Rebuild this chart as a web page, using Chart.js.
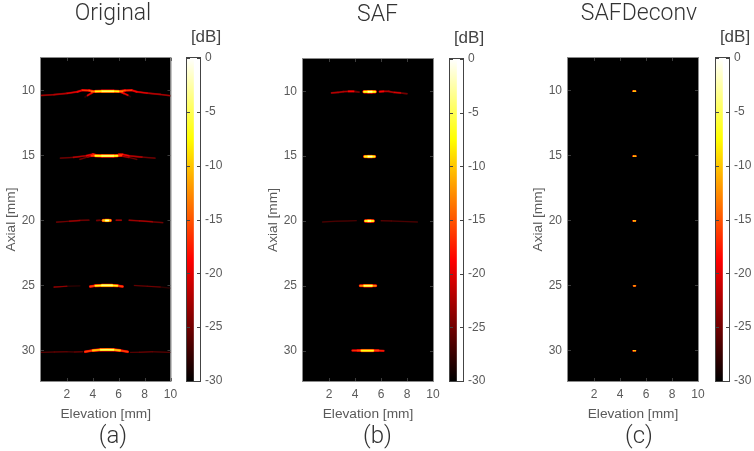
<!DOCTYPE html>
<html>
<head>
<meta charset="utf-8">
<title>Original / SAF / SAFDeconv</title>
<script src="https://cdn.jsdelivr.net/npm/chart.js@4"></script>
<style>
  html, body { margin: 0; background: #fff; width: 754px; height: 451px; overflow: hidden; }
  canvas { position: absolute; filter: blur(0.45px); }
</style>
</head>
<body>
<script>
//tick labels
const elevationTicks = [2, 4, 6, 8, 10];
const axialTicks = [10, 15, 20, 25, 30];
const dbTicks = [0, -5, -10, -15, -20, -25, -30];

//each lobe is a list of [elevation mm, axial mm, dB]
const originalLobes = [
  // 10 mm
  [[0, 10.38, -22], [1, 10.32, -21], [2, 10.22, -20], [2.8, 10.1, -18], [3.2, 9.98, -15], [3.7, 10.0, -14], [4.0, 10.05, -13]],
  [[3.4, 10.5, -28], [3.6, 10.38, -19], [3.9, 10.2, -18], [4.1, 10.08, -16]],
  [[3.9, 10.08, -14], [4.2, 10.07, -8], [4.7, 10.06, -4], [5.1, 10.06, -2], [5.6, 10.06, -4], [6.0, 10.07, -8], [6.3, 10.08, -14]],
  [[6.1, 10.05, -13], [6.5, 10.0, -14], [7.0, 9.98, -15], [7.4, 10.1, -18], [8.2, 10.2, -20], [9.2, 10.3, -21], [10, 10.4, -22]],
  [[6.1, 10.1, -16], [6.4, 10.22, -18], [6.7, 10.36, -19], [6.9, 10.48, -28]],
  // 15 mm
  [[0.6, 15.27, -30], [1.5, 15.2, -24], [2.5, 15.14, -21], [3.5, 15.02, -19], [4.0, 14.9, -17], [4.2, 14.95, -14]],
  [[2.4, 15.5, -30], [3.0, 15.3, -25], [3.6, 15.12, -22], [4.1, 15.0, -20]],
  [[3.9, 15.02, -16], [4.2, 15.02, -6], [4.7, 15.03, -3], [5.1, 15.03, -2], [5.6, 15.03, -3], [5.9, 15.02, -6], [6.2, 15.0, -16]],
  [[6.0, 14.92, -15], [6.3, 14.92, -17], [6.8, 15.03, -19], [7.8, 15.12, -21], [8.8, 15.2, -24], [9.6, 15.27, -30]],
  [[6.1, 15.02, -20], [6.8, 15.15, -23], [7.4, 15.3, -25], [8.0, 15.5, -30]],
  // 20 mm
  [[0.4, 20.2, -30], [1.2, 20.12, -24], [2.2, 20.06, -22], [3.0, 20.0, -22], [3.7, 19.98, -24], [3.9, 20.0, -30]],
  [[4.1, 20.06, -30], [4.3, 20.0, -20], [4.55, 19.98, -24], [4.7, 20, -30]],
  [[4.65, 20, -30], [4.8, 20, -9], [5.0, 20, -1], [5.2, 20, -1], [5.35, 20, -9], [5.5, 20, -30]],
  [[5.6, 20, -30], [5.8, 19.98, -20], [6.2, 19.98, -23], [6.4, 20, -30]],
  [[6.4, 20.0, -30], [6.8, 19.98, -23], [7.6, 20.03, -21], [8.6, 20.1, -22], [9.4, 20.17, -24], [9.9, 20.25, -30]],
  // 25 mm
  [[0.2, 25.15, -30], [1.0, 25.12, -23], [2.0, 25.06, -23], [3.0, 25.03, -27], [3.2, 25.03, -30]],
  [[3.6, 25.1, -30], [3.8, 25.08, -17], [4.2, 25.02, -8], [4.7, 25, -3], [5.1, 25, -1], [5.5, 25, -3], [5.9, 25.02, -8], [6.3, 25.08, -17], [6.5, 25.1, -30]],
  [[6.9, 25.03, -30], [7.2, 25.0, -25], [8.2, 25.06, -24], [9.2, 25.12, -23], [10, 25.2, -28]],
  // 30 mm
  [[0, 30.15, -26], [1.0, 30.12, -24], [2.0, 30.1, -25], [2.6, 30.12, -26], [3.2, 30.1, -22]],
  [[2.9, 30.2, -30], [3.4, 30.1, -17], [4.0, 30.0, -9], [4.6, 29.95, -4], [5.1, 29.94, -2], [5.6, 29.95, -4], [6.1, 30.0, -9], [6.7, 30.1, -17], [7.2, 30.2, -30]],
  [[6.9, 30.15, -26], [7.6, 30.14, -24], [8.6, 30.1, -24], [10, 30.15, -26]]
];

const safLobes = [
  // 10 mm
  [[1.5, 10.2, -30], [2.2, 10.12, -21], [2.7, 10.08, -19], [3.1, 10.02, -22], [3.5, 10.0, -20], [3.9, 10.0, -15], [4.3, 10.05, -24], [4.4, 10.05, -30]],
  [[4.45, 10.03, -30], [4.7, 10.03, -6], [5.0, 10.03, -1], [5.3, 10.03, -1], [5.55, 10.03, -6], [5.75, 10.03, -30]],
  [[5.7, 10.03, -30], [5.9, 10.02, -16], [6.2, 10.0, -18], [6.6, 10.0, -22], [7.0, 10.08, -19], [7.5, 10.12, -20], [8.0, 10.18, -24], [8.5, 10.22, -30]],
  // 15 mm
  [[3.2, 15.0, -30], [3.4, 15.0, -28], [3.6, 15.0, -30]],
  [[4.0, 15.02, -30], [4.2, 15.02, -21], [4.4, 15.02, -30]],
  [[4.5, 15.03, -30], [4.75, 15.03, -7], [5.0, 15.03, -1], [5.3, 15.03, -1], [5.5, 15.03, -7], [5.7, 15.03, -30]],
  [[5.65, 15.02, -30], [5.85, 15.02, -22], [6.05, 15.02, -30]],
  // 20 mm
  [[0.7, 20.14, -30], [1.5, 20.08, -26], [2.5, 20.02, -25], [3.4, 20, -26], [4.1, 19.98, -25], [4.3, 20, -30]],
  [[4.55, 20, -30], [4.8, 20, -6], [5.0, 20, -1], [5.2, 20, -1], [5.4, 20, -6], [5.6, 20, -30]],
  [[5.7, 19.98, -30], [6.0, 19.98, -24], [6.8, 20.0, -26], [7.8, 20.04, -25], [8.8, 20.08, -26], [9.5, 20.14, -30]],
  // 25 mm
  [[3.3, 25.0, -30], [3.6, 25.0, -21], [3.9, 25.0, -30]],
  [[4.1, 25, -30], [4.4, 25, -14], [4.7, 25, -5], [5.0, 25, -1], [5.3, 25, -5], [5.6, 25, -14], [5.85, 25, -30]],
  [[6.0, 25, -30], [6.3, 25, -24], [6.6, 25, -30]],
  // 30 mm
  [[2.3, 30.06, -30], [2.7, 30.05, -21], [3.2, 30.05, -30]],
  [[3.5, 30.02, -30], [3.8, 30.0, -17], [4.2, 30.0, -15], [4.5, 30.0, -8], [5.0, 30.0, -1], [5.4, 30.0, -8], [5.8, 30.0, -16], [6.2, 30.02, -17], [6.5, 30.02, -30]],
  [[6.7, 30.06, -30], [7.1, 30.05, -20], [7.6, 30.06, -30]]
];

const deconvLobes = [
  [[4.92, 10.05, -30], [5.0, 10.05, -8], [5.1, 10.05, -2], [5.2, 10.05, -8], [5.28, 10.05, -30]],
  [[4.9, 15.05, -30], [5.0, 15.05, -7], [5.1, 15.05, -5], [5.22, 15.05, -7], [5.3, 15.05, -30]],
  [[4.92, 20.03, -30], [5.0, 20.03, -8], [5.1, 20.03, -5], [5.2, 20.03, -8], [5.28, 20.03, -30]],
  [[4.94, 25.03, -30], [5.03, 25.03, -9], [5.12, 25.03, -7], [5.2, 25.03, -10], [5.28, 25.03, -30]],
  [[4.92, 30.02, -30], [5.0, 30.02, -8], [5.1, 30.02, -6], [5.2, 30.02, -8], [5.28, 30.02, -30]]
];

//contour levels drawn for every lobe
const levels = [-29, -26, -23, -20, -17, -14, -11, -8, -5, -2];

const GREY = '#5a5a5a';
const SANS = '"Liberation Sans", sans-serif';
const TITLE_FONT = 'Roboto, sans-serif';
const AREA_TOP = 58;
const AREA_BOTTOM_GAP = 70; //px under plot and colour bar
const TAG_SIZE = 24;

//matlab hot colormap
const hot = (db) => {
  const t = Math.max(0, Math.min(1, (db + 30) / 30));
  const r = Math.min(1, t / 0.375);
  const g = Math.max(0, Math.min(1, (t - 0.375) / 0.375));
  const b = Math.max(0, (t - 0.75) / 0.25);
  return `rgb(${Math.round(r * 255)},${Math.round(g * 255)},${Math.round(b * 255)})`;
};

//inward ticks and the box round the plot
const framePlugin = {
  id: 'frame',
  afterDraw(chart, args, opts) {
    const { ctx, chartArea: a, scales } = chart;
    ctx.save();
    ctx.lineWidth = 1;
    ctx.strokeStyle = opts.tickColor;
    ctx.beginPath();
    [scales.x, scales.y].forEach((s) => {
      if (!s.options.display) return;
      s.ticks.forEach((t) => {
        const p = Math.round(s.getPixelForValue(t.value)) + 0.5;
        if (s.axis === 'x') {
          ctx.moveTo(p, a.bottom);
          ctx.lineTo(p, a.bottom - 3);
          ctx.moveTo(p, a.top);
          ctx.lineTo(p, a.top + 3);
        } else {
          ctx.moveTo(a.left, p);
          ctx.lineTo(a.left + 3, p);
          ctx.moveTo(a.right, p);
          ctx.lineTo(a.right - 3, p);
        }
      });
    });
    ctx.stroke();
    ctx.strokeStyle = opts.color;
    ctx.strokeRect(a.left - 0.5, a.top - 0.5, a.right - a.left + 1, a.bottom - a.top + 1);
    ctx.restore();
  },
};
Chart.register(framePlugin);

const addCanvas = (left, top, width, height) => {
  const c = document.createElement('canvas');
  c.width = width;
  c.height = height;
  c.style.left = left + 'px';
  c.style.top = top + 'px';
  c.style.width = width + 'px';
  c.style.height = height + 'px';
  document.body.append(c);
  return c;
};

//one dataset per contour level, thick where the lobe is far above that level
const lobeDatasets = (lobes, widthScale) => {
  const sets = [];
  lobes.forEach((lobe) => {
    levels.forEach((level) => {
      sets.push({
        data: lobe.map(([x, y, db]) => ({ x, y: db >= level ? y : null })),
        borderColor: hot(level + 1),
        borderWidth: 1,
        borderCapStyle: 'round',
        pointRadius: 0,
        tension: 0,
        spanGaps: false,
        order: -level,
        segment: {
          borderWidth: (ctx) => {
            const avg = (lobe[ctx.p0DataIndex][2] + lobe[ctx.p1DataIndex][2]) / 2;
            return Math.max(0.5, widthScale * Math.sqrt(Math.max(0, avg - level)));
          },
        },
      });
    });
  });
  return sets;
};

//image panel
const drawPanel = (left, top, width, plotRight, title, tag, lobes, widthScale, softness) => {
  const height = 451 - top;
  new Chart(addCanvas(left, top, width, height), {
    type: 'line',
    data: { datasets: lobeDatasets(lobes, widthScale) },
    plugins: [{
      id: 'blackArea',
      beforeDatasetsDraw(chart) {
        const { ctx, chartArea: a } = chart;
        ctx.fillStyle = '#000';
        ctx.fillRect(a.left, a.top, a.right - a.left, a.bottom - a.top);
        ctx.filter = `blur(${softness}px)`;
      },
      afterDatasetsDraw(chart) {
        chart.ctx.filter = 'none';
      },
    }],
    options: {
      responsive: false,
      animation: false,
      layout: { padding: 0 },
      plugins: {
        legend: { display: false },
        tooltip: { enabled: false },
        frame: { color: '#8a8a8a', tickColor: '#3c3c3c' },
        title: {
          display: true,
          text: title,
          color: '#333',
          font: { family: TITLE_FONT, size: 23, weight: '300', lineHeight: 1.2 },
          padding: { top: 0, bottom: AREA_TOP - 27.6 },
        },
        subtitle: {
          display: true,
          position: 'bottom',
          text: tag,
          color: '#333',
          font: { family: TITLE_FONT, size: TAG_SIZE, weight: '300', lineHeight: 1.2 },
          padding: 0,
        },
      },
      scales: {
        x: {
          type: 'linear',
          min: 0,
          max: 10,
          afterBuildTicks: (s) => { s.ticks = elevationTicks.map((value) => ({ value })); },
          afterFit: (s) => { s.height = AREA_BOTTOM_GAP - TAG_SIZE * 1.2; },
          grid: { display: false, drawTicks: false },
          border: { display: false },
          ticks: { color: GREY, font: { family: SANS, size: 12 }, padding: 6, maxRotation: 0 },
          title: {
            display: true,
            text: 'Elevation [mm]',
            color: GREY,
            font: { family: SANS, size: 13.7 },
            padding: 0,
          },
        },
        y: {
          type: 'linear',
          min: 7.5,
          max: 32.35,
          reverse: true,
          afterBuildTicks: (s) => { s.ticks = axialTicks.map((value) => ({ value })); },
          afterFit: (s) => { s.width = 41; },
          grid: { display: false, drawTicks: false },
          border: { display: false },
          ticks: { color: GREY, font: { family: SANS, size: 12 }, padding: 6 },
          title: {
            display: true,
            text: 'Axial [mm]',
            color: GREY,
            font: { family: SANS, size: 13.7 },
            padding: { top: 3, bottom: 0 },
          },
        },
        //empty axis, keeps room right of the plot so titles centre on the whole canvas
        yRight: {
          position: 'right',
          afterFit: (s) => { s.width = width - plotRight; },
          grid: { display: false, drawTicks: false },
          border: { display: false },
          ticks: { display: false },
        },
      },
    },
  });
};

//colour bar is one floating bar from -30 to 0 on its own dB scale
const drawColorbar = (left, top) => {
  const width = 58;
  const barLeft = 20;
  const height = 451 - top;
  new Chart(addCanvas(left, top, width, height), {
    type: 'bar',
    data: {
      labels: ['dB'],
      datasets: [{
        data: [[dbTicks[dbTicks.length - 1], dbTicks[0]]],
        barPercentage: 1,
        categoryPercentage: 1,
        backgroundColor: (ctx) => {
          const { chartArea: a, ctx: c, scales } = ctx.chart;
          if (!a) return '#000';
          const g = c.createLinearGradient(0, a.bottom, 0, a.top);
          const stops = [-30, -18.75, -7.5, 0];
          stops.forEach((db) => {
            g.addColorStop((scales.y.getPixelForValue(-30) - scales.y.getPixelForValue(db)) / (a.bottom - a.top), hot(db));
          });
          return g;
        },
      }],
    },
    options: {
      responsive: false,
      animation: false,
      layout: { padding: { left: barLeft, right: 0, top: 0, bottom: AREA_BOTTOM_GAP } },
      plugins: {
        legend: { display: false },
        tooltip: { enabled: false },
        frame: { color: '#444', tickColor: '#444' },
        title: {
          display: true,
          text: '[dB]',
          color: '#444',
          font: { family: SANS, size: 17, weight: '400', lineHeight: 1.2 },
          padding: { top: 27, bottom: AREA_TOP - 27 - 20.4 },
        },
      },
      scales: {
        x: { display: false, offset: false },
        y: {
          position: 'right',
          min: -30,
          max: 0,
          afterBuildTicks: (s) => { s.ticks = dbTicks.map((value) => ({ value })); },
          afterFit: (s) => { s.width = width - barLeft - 13; },
          grid: { display: false, drawTicks: false },
          border: { display: false },
          ticks: { color: GREY, font: { family: SANS, size: 12 }, padding: 5 },
        },
      },
    },
  });
};

//main function
const main = () => {
  drawPanel(0, 0, 226, 170.5, 'Original', '(a)', originalLobes, 0.7, 0.7);
  drawColorbar(167, 0);

  drawPanel(262, 1, 231, 171, 'SAF', '(b)', safLobes, 0.7, 0.7);
  drawColorbar(430, 1);

  drawPanel(527, 0, 224, 171, 'SAFDeconv', '(c)', deconvLobes, 0.35, 0.3);
  drawColorbar(696, 0);
};

main();
</script>
</body>
</html>
